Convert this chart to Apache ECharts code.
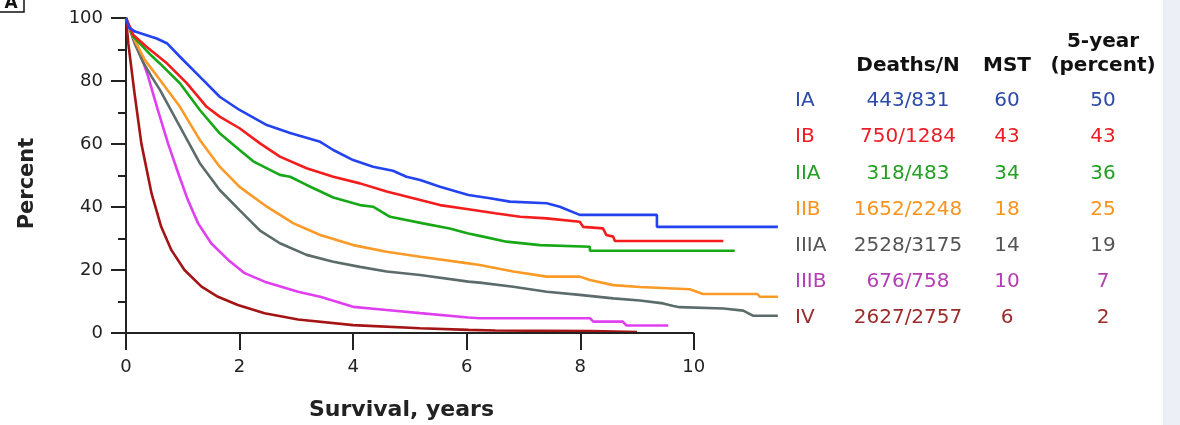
<!DOCTYPE html>
<html>
<head>
<meta charset="utf-8">
<script src="https://cdn.jsdelivr.net/npm/echarts@6.0.0/dist/echarts.min.js"></script>
<style>
  html, body { margin: 0; padding: 0; background: #fff; }
  #chart { width: 1180px; height: 425px; }
</style>
</head>
<body>
<div id="chart"></div>
<script>
// stage groups, table columns
const stages = ['IA', 'IB', 'IIA', 'IIB', 'IIIA', 'IIIB', 'IV']
const deathsN = ['443/831', '750/1284', '318/483', '1652/2248', '2528/3175', '676/758', '2627/2757']
const mst = ['60', '43', '34', '18', '14', '10', '6']
const fiveYear = ['50', '43', '36', '25', '19', '7', '2']

const xTicks = [0, 2, 4, 6, 8, 10]
const yTicks = [0, 20, 40, 60, 80, 100]

// survival curves, [years, percent]
const survIA = [[0,100],[0.05,97],[0.16,95.7],[0.54,93.5],[0.72,92],[0.95,87.7],[1.36,80.3],[1.65,75],[2.0,70.8],[2.48,66],[2.89,63.5],[3.42,60.7],[3.65,58.1],[4.0,54.9],[4.35,52.8],[4.7,51.5],[4.94,49.6],[5.18,48.6],[5.53,46.4],[6.03,43.8],[6.41,42.8],[6.76,41.7],[7.41,41.2],[7.64,40.1],[7.99,37.5],[9.35,37.5],[9.35,33.7],[11.48,33.7]]
const survIB = [[0,100],[0.13,94.6],[0.36,90.9],[0.72,85.6],[1.07,79.3],[1.42,71.8],[1.65,68.7],[2.0,65],[2.36,60.2],[2.71,56],[3.18,52.3],[3.65,49.6],[4.12,47.5],[4.59,44.9],[5.06,42.8],[5.53,40.6],[6.03,39.3],[6.5,38],[6.94,36.9],[7.41,36.4],[7.99,35.3],[8.05,33.7],[8.4,33.2],[8.46,31.1],[8.58,30.6],[8.61,29.2],[10.52,29.2]]
const survIIA = [[0,100],[0.13,94],[0.27,91.4],[0.45,88],[0.6,85.5],[0.95,79.3],[1.3,70.8],[1.65,63.4],[2.0,58.1],[2.24,54.5],[2.71,50.2],[2.89,49.6],[3.18,47],[3.65,43],[4.12,40.6],[4.35,40.1],[4.65,36.9],[5.23,34.8],[5.7,33.2],[6.03,31.6],[6.29,30.6],[6.7,29],[7.29,27.9],[8.17,27.4],[8.17,26.1],[10.72,26.1]]
const survIIB = [[0,100],[0.15,93],[0.33,86.7],[0.6,80.3],[0.95,71.8],[1.3,61.3],[1.65,52.8],[2.0,46.4],[2.48,40.1],[2.95,34.8],[3.42,31.1],[4.0,27.9],[4.59,25.8],[5.18,24.2],[6.03,22.1],[6.23,21.6],[6.82,19.5],[7.41,17.9],[7.99,17.9],[8.17,16.8],[8.58,15.2],[9.05,14.6],[9.93,13.9],[10.16,12.4],[11.12,12.4],[11.16,11.5],[11.48,11.5]]
const survIIIA = [[0,100],[0.15,92],[0.3,86],[0.45,81.4],[0.6,77.1],[0.95,65.5],[1.3,53.9],[1.65,45.4],[2.0,39],[2.36,32.5],[2.71,28.5],[3.18,24.8],[3.65,22.6],[4.12,21],[4.59,19.5],[5.18,18.4],[6.03,16.3],[6.23,16],[6.82,14.7],[7.41,13.1],[7.99,12.1],[8.58,11],[9.05,10.3],[9.46,9.4],[9.64,8.6],[9.75,8.2],[10.52,7.8],[10.87,7.1],[11.04,5.5],[11.48,5.5]]
const survIIIB = [[0,100],[0.1,95],[0.21,90.9],[0.39,81.4],[0.56,70.8],[0.74,60.2],[0.92,50.7],[1.09,42.2],[1.27,34.8],[1.5,28.5],[1.8,23.2],[2.09,19],[2.44,16.3],[3.03,13.1],[3.42,11.5],[4.0,8.3],[4.59,7.3],[5.18,6.3],[6.03,4.9],[6.23,4.7],[8.17,4.7],[8.23,3.6],[8.75,3.6],[8.81,2.4],[9.55,2.4]]
const survIV = [[0,100],[0.04,92],[0.15,76.1],[0.27,60.2],[0.45,44.3],[0.62,33.7],[0.8,26.3],[1.03,20],[1.33,14.7],[1.62,11.5],[1.97,8.9],[2.44,6.3],[3.03,4.3],[4.0,2.5],[5.18,1.5],[6.03,1],[6.5,0.8],[8.2,0.6],[9.0,0.3]]

const curves = [survIA, survIB, survIIA, survIIB, survIIIA, survIIIB, survIV]
const lineColors = ['#2443f0', '#f41c1c', '#17a817', '#fb9a26', '#5c6b6b', '#e03ff0', '#a41414']
const textColors = ['#2c4aa8', '#ee1d25', '#24a024', '#f7941d', '#555555', '#b43db4', '#9c2b2b']

const chart = echarts.init(document.getElementById('chart'))

const font = 'DejaVu Sans, Verdana, sans-serif'
const axisColor = '#222'

// table on the right
const colX = { label: 795, deaths: 908, mst: 1007, five: 1103 }
const rowY0 = 101
const rowStep = 36.2
const tableTexts = []
const addText = (x, y, text, color, align, bold) => {
  tableTexts.push({
    type: 'text',
    x: x,
    y: y,
    style: {
      text: text,
      fill: color,
      font: (bold ? 'bold 20px ' : '20px ') + font,
      align: align,
      verticalAlign: 'middle',
    },
  })
}
addText(colX.five, 42, '5-year', '#111', 'center', true)
addText(colX.deaths, 66, 'Deaths/N', '#111', 'center', true)
addText(colX.mst, 66, 'MST', '#111', 'center', true)
addText(colX.five, 66, '(percent)', '#111', 'center', true)
stages.forEach((s, i) => {
  const y = rowY0 + i * rowStep
  addText(colX.label, y, s, textColors[i], 'left', false)
  addText(colX.deaths, y, deathsN[i], textColors[i], 'center', false)
  addText(colX.mst, y, mst[i], textColors[i], 'center', false)
  addText(colX.five, y, fiveYear[i], textColors[i], 'center', false)
})

const option = {
  backgroundColor: '#ffffff',
  animation: false,
  grid: {
    left: 126,
    top: 18,
    right: 401,
    bottom: 92,
    outerBoundsMode: 'none',
  },
  xAxis: {
    type: 'value',
    min: 0,
    max: 11.5,
    name: 'Survival, years',
    nameLocation: 'middle',
    nameGap: 66,
    // axis runs to 11.5 but the title sits under 0-10
    nameTextStyle: { fontFamily: font, fontSize: 22, fontWeight: 'bold', color: '#222', padding: [0, 102, 0, 0] },
    // the drawn axis line stops at 10, see markLine below
    axisLine: { show: false },
    axisTick: { show: true, length: 17, customValues: xTicks, lineStyle: { color: axisColor, width: 2 } },
    axisLabel: {
      margin: 25,
      fontFamily: font,
      fontSize: 18,
      color: '#222',
      customValues: xTicks,
    },
    splitLine: { show: false },
  },
  yAxis: {
    type: 'value',
    min: 0,
    max: 100,
    interval: 20,
    name: 'Percent',
    nameLocation: 'middle',
    nameGap: 88,
    nameRotate: 90,
    nameTextStyle: { fontFamily: font, fontSize: 21, fontWeight: 'bold', color: '#222', padding: [0, 16, 0, 0] },
    axisLine: { show: true, lineStyle: { color: axisColor, width: 2 } },
    axisTick: { show: true, length: 15, lineStyle: { color: axisColor, width: 2 } },
    minorTick: { show: true, splitNumber: 2, length: 8, lineStyle: { color: axisColor, width: 2 } },
    axisLabel: {
      margin: 23,
      fontFamily: font,
      fontSize: 18,
      color: '#222',
      customValues: yTicks,
    },
    splitLine: { show: false },
  },
  series: curves.map((d, i) => ({
    name: stages[i],
    type: 'line',
    data: d,
    symbol: 'none',
    z: 10 - i,
    lineStyle: { color: lineColors[i], width: 2.6 },
    markLine: i === 0 ? {
      silent: true,
      symbol: 'none',
      label: { show: false },
      lineStyle: { color: axisColor, width: 2, type: 'solid' },
      data: [[{ coord: [xTicks[0], 0] }, { coord: [xTicks[xTicks.length - 1], 0] }]],
    } : undefined,
  })),
  graphic: [
    // pale strip on the right edge
    { type: 'rect', shape: { x: 1163, y: 0, width: 17, height: 425 }, style: { fill: '#eceff5' } },
    // panel letter, cut off at the top-left corner
    { type: 'rect', shape: { x: -2, y: -10, width: 26, height: 22 }, style: { fill: '#fff', stroke: '#111', lineWidth: 1.5 } },
    { type: 'text', x: 11, y: 4, style: { text: 'A', font: 'bold 17px ' + font, fill: '#111', align: 'center', verticalAlign: 'middle' } },
    ...tableTexts,
  ],
}

chart.setOption(option)
</script>
</body>
</html>
